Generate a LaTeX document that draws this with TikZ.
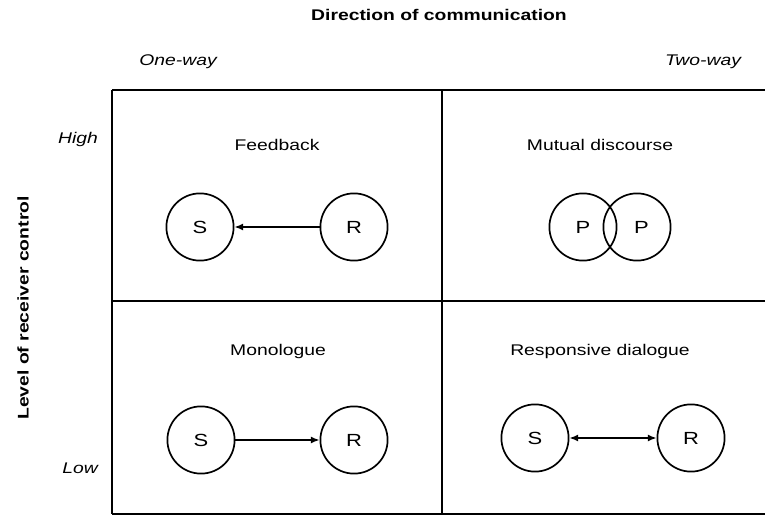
\documentclass[tikz,border=0pt]{standalone}
\usepackage{fontspec}
\setmainfont{Liberation Sans}[FakeStretch=1.25]
\usepackage{tikz}
\usetikzlibrary{arrows.meta, positioning}
\tikzset{
  party/.style={circle, draw, line width=1.2pt, minimum size=1.68cm, inner sep=0pt,
                font=\fontsize{12.5}{14}\selectfont},
  celltitle/.style={font=\fontsize{11}{13}\selectfont},
  axistitle/.style={font=\fontsize{11}{13}\selectfont\bfseries},
  axisend/.style={font=\fontsize{11}{13}\selectfont\itshape},
  flow/.style={line width=1.1pt, -{Latex[length=2.2mm,width=1.8mm]}},
  twoflow/.style={line width=1.1pt, {Latex[length=2.2mm,width=1.8mm]}-{Latex[length=2.2mm,width=1.8mm]}}
}

\begin{document}
\begin{tikzpicture}
    \useasboundingbox (0,0) rectangle (19.125,12.9);
    % grid of the four cells
    \draw[line width=1.3pt] (2.8,10.65) -- (19.125,10.65);
    \draw[line width=1.3pt] (2.8,5.375) -- (19.125,5.375);
    \draw[line width=1.3pt] (2.8,0.05) -- (19.125,0.05);
    \draw[line width=1.3pt] (2.8,10.65) -- (2.8,0.05);
    \draw[line width=1.3pt] (11.05,10.65) -- (11.05,0.05);
    % axes
    \node[axistitle] (dirtitle) at (10.975,12.525) {Direction of communication};
    \node[axisend] (oneway) at (4.45,11.35) {One-way};
    \node[axisend] (twoway) at (17.575,11.35) {Two-way};
    \node[axistitle, rotate=90] (ctrltitle) at (0.575,5.2) {Level of receiver control};
    \node[axisend] (high) at (1.95,9.4) {High};
    \node[axisend] (low) at (2.0,1.2) {Low};
    % feedback
    \node[celltitle] (fbtitle) at (6.925,9.275) {Feedback};
    \node[party] (fbS) at (5.0,7.225) {S};
    \node[party] (fbR) at (8.85,7.225) {R};
    \draw[flow] (fbR) -- (fbS);
    % mutual discourse
    \node[celltitle] (mdtitle) at (15.0,9.275) {Mutual discourse};
    \node[party] (mdP1) at (14.575,7.225) {P\hspace{0.5em}};
    \node[party] (mdP2) at (15.925,7.225) {\hspace{0.5em}P};
    % monologue
    \node[celltitle] (motitle) at (6.95,4.1) {Monologue};
    \node[party] (moS) at (5.025,1.9) {S};
    \node[party] (moR) at (8.85,1.9) {R};
    \draw[flow] (moS) -- (moR);
    % responsive dialogue
    \node[celltitle] (rdtitle) at (15.0,4.1) {Responsive dialogue};
    \node[party] (rdS) at (13.375,1.95) {S};
    \node[party] (rdR) at (17.275,1.95) {R};
    \draw[twoflow] (rdS) -- (rdR);
\end{tikzpicture}
\end{document}
